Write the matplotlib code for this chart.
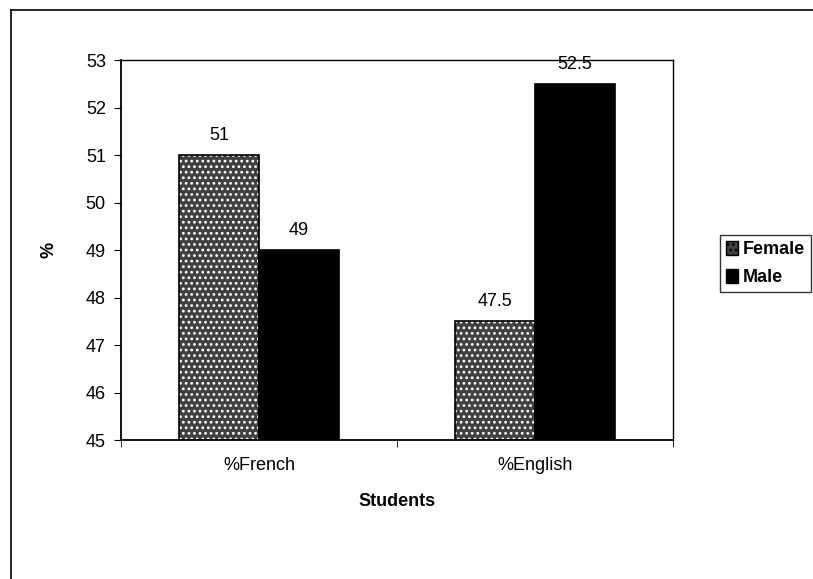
import matplotlib
matplotlib.use("Agg")
import numpy as np
import matplotlib.pyplot as plt
from matplotlib.patches import Patch
from matplotlib.lines import Line2D

plt.rcParams['font.family'] = ['Liberation Sans', 'DejaVu Sans']
plt.rcParams['hatch.linewidth'] = 1.2

categories = ['%French', '%English']
female = [51, 47.5]
male = [49, 52.5]
series_names = ['Female', 'Male']

fig = plt.figure(figsize=(8.13, 5.79), dpi=100)
ax = fig.add_axes([0.149, 0.240, 0.679, 0.656])

# outer chart frame
fig.add_artist(Line2D([11/813, 11/813], [-0.1, 1 - 10/579], transform=fig.transFigure, color='black', lw=1.2))
fig.add_artist(Line2D([11/813, 1.0], [1 - 10/579, 1 - 10/579], transform=fig.transFigure, color='black', lw=1.2))

x = np.arange(len(categories))
w = 0.29
base = 45
fs = 13

# speckled grey female bars: dark fill, white dot hatch, then black outline
ax.bar(x - w/2, np.array(female) - base, w, bottom=base, color='#404040', edgecolor='white', hatch='...', linewidth=0)
ax.bar(x - w/2, np.array(female) - base, w, bottom=base, fill=False, edgecolor='black', linewidth=1.2)
ax.bar(x + w/2, np.array(male) - base, w, bottom=base, color='black', edgecolor='black', linewidth=1.2)

for xi, v in zip(x - w/2, female):
    ax.annotate(f'{v:g}', (xi, v), xytext=(0, 8), textcoords='offset points', ha='center', va='bottom', fontsize=fs)
for xi, v in zip(x + w/2, male):
    ax.annotate(f'{v:g}', (xi, v), xytext=(0, 8), textcoords='offset points', ha='center', va='bottom', fontsize=fs)

ax.set_xlim(-0.5, 1.5)
ax.set_ylim(45, 53)
ax.set_yticks(range(45, 54))
ax.set_xticks(x)
ax.set_xticklabels(categories, fontsize=fs)
ax.set_xticks([-0.5, 0.5, 1.5], minor=True)
ax.tick_params(axis='x', which='major', length=0, pad=12)
ax.tick_params(axis='x', which='minor', length=5, direction='out')
ax.tick_params(axis='y', labelsize=fs, length=5, direction='out', pad=6)

for side in ['left', 'bottom']:
    ax.spines[side].set_linewidth(1.3)
for side in ['top', 'right']:
    ax.spines[side].set_linewidth(1.0)

ax.set_xlabel('Students', fontsize=fs, fontweight='bold', labelpad=14)
ax.set_ylabel('%', fontsize=fs, fontweight='bold', labelpad=20)

handles = [Patch(facecolor='#404040', edgecolor='black', hatch='...', label=series_names[0]),
           Patch(facecolor='black', edgecolor='black', label=series_names[1])]
leg = fig.legend(handles=handles, loc='center left', bbox_to_anchor=(0.885, 0.545),
                 frameon=True, fancybox=False, edgecolor='black', handlelength=0.7, handleheight=0.8,
                 handletextpad=0.25, borderpad=0.35, borderaxespad=0, labelspacing=0.6,
                 prop={'weight': 'bold', 'size': 13})
leg.get_frame().set_linewidth(1.0)

fig.savefig('out.png', dpi=100)
